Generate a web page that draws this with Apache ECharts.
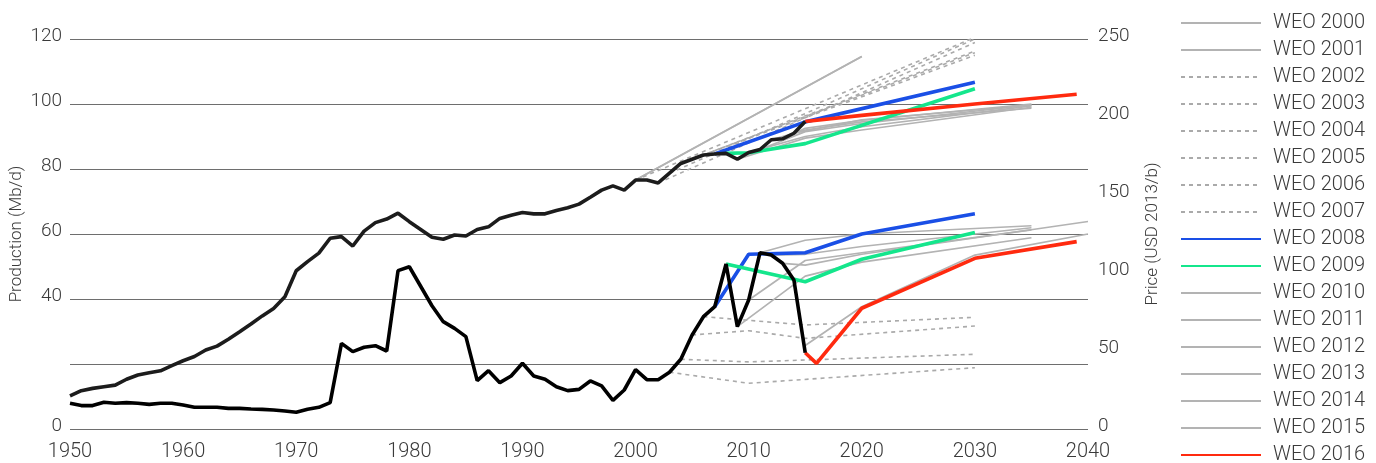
<!DOCTYPE html>
<html>
<head>
<meta charset="utf-8">
<script src="https://cdn.jsdelivr.net/npm/echarts@6/dist/echarts.min.js"></script>
<style>
html,body{margin:0;padding:0;background:#fff;}
#chart{width:1376px;height:463px;}
</style>
</head>
<body>
<div id="chart"></div>
<script>
// ---- Data ----
const histYears = [1950,1951,1952,1953,1954,1955,1956,1957,1958,1959,1960,1961,1962,1963,1964,1965,1966,1967,1968,1969,
  1970,1971,1972,1973,1974,1975,1976,1977,1978,1979,1980,1981,1982,1983,1984,1985,1986,1987,1988,1989,
  1990,1991,1992,1993,1994,1995,1996,1997,1998,1999,2000,2001,2002,2003,2004,2005,2006,2007,2008,2009,
  2010,2011,2012,2013,2014,2015];
const histProduction = [10.2,11.8,12.5,13.0,13.5,15.3,16.6,17.3,17.9,19.5,21.0,22.3,24.3,25.5,27.6,29.9,32.3,34.8,37.1,40.7,
  48.7,51.5,54.1,58.7,59.2,56.3,60.9,63.5,64.6,66.4,63.8,61.4,59.0,58.4,59.7,59.4,61.4,62.2,64.8,65.8,
  66.6,66.2,66.2,67.2,68.1,69.2,71.3,73.5,74.8,73.5,76.6,76.6,75.7,78.7,81.7,83.0,84.3,84.6,84.8,83.0,
  85.1,86.0,89.0,89.3,91.0,94.6];
const histPrice = [16.5,15.0,15.0,17.1,16.5,16.9,16.5,15.8,16.5,16.5,15.4,13.9,13.9,13.9,13.2,13.2,12.8,12.6,12.2,11.5,
  10.7,12.6,13.9,16.9,54.9,49.6,52.4,53.4,50.0,101.5,104.0,91.5,79.0,68.8,64.5,59.2,31.0,37.4,29.7,34.0,
  42.1,34.0,31.9,27.1,24.6,25.4,30.8,27.6,18.4,25.0,38.0,31.6,31.6,36.4,44.7,60.3,72.0,78.4,105.8,65.6,
  82.7,113.0,111.5,106.2,95.5,48.9];

// WEO production projections (Mb/d) [year, value]
const weo2000Prod = [[2000,76.6],[2020,114.6]];
const weo2001Prod = [[2000,76.6],[2020,114.6]];
const weo2002Prod = [[2000,76.6],[2030,120.5]];
const weo2003Prod = [[2002,75.7],[2030,118.9]];
const weo2004Prod = [[2003,78.7],[2030,120.0]];
const weo2005Prod = [[2004,81.7],[2030,115.8]];
const weo2006Prod = [[2005,83.0],[2030,116.3]];
const weo2007Prod = [[2006,84.3],[2030,115.0]];
const weo2008Prod = [[2007,84.6],[2015,94.5],[2030,106.7]];
const weo2009Prod = [[2008,84.8],[2010,85.0],[2015,87.8],[2030,104.7]];
const weo2010Prod = [[2009,83.0],[2015,89.5],[2020,92.0],[2035,99.0]];
const weo2011Prod = [[2010,85.1],[2015,90.0],[2020,93.0],[2035,99.4]];
const weo2012Prod = [[2011,86.0],[2015,91.5],[2020,94.0],[2035,99.7]];
const weo2013Prod = [[2012,89.0],[2015,92.0],[2020,94.5],[2035,98.7]];
const weo2014Prod = [[2013,89.3],[2015,92.5],[2020,95.0],[2035,100.0]];
const weo2015Prod = [[2014,91.0],[2020,95.1],[2035,99.7]];
const weo2016Prod = [[2015,94.6],[2020,96.5],[2030,100.0],[2039,103.0]];

// WEO price projections (USD 2013/b) [year, value]
const weo2004Price = [[2003,36.4],[2010,29.3],[2030,39.3]];
const weo2005Price = [[2004,44.7],[2010,43.0],[2030,47.9]];
const weo2006Price = [[2005,60.3],[2010,63.0],[2015,58.1],[2030,66.0]];
const weo2007Price = [[2006,72.0],[2015,66.7],[2030,71.6]];
const weo2008Price = [[2007,78.4],[2010,112.0],[2015,113.0],[2020,125.0],[2030,138.0]];
const weo2009Price = [[2008,105.8],[2015,94.4],[2020,108.8],[2030,126.0]];
const weo2010Price = [[2009,65.6],[2015,98.0],[2020,107.0],[2035,122.6]];
const weo2011Price = [[2010,82.7],[2015,108.0],[2020,113.0],[2035,127.6]];
const weo2012Price = [[2011,113.0],[2015,121.0],[2020,125.0],[2035,130.3]];
const weo2013Price = [[2012,111.5],[2015,112.0],[2020,117.0],[2035,129.0]];
const weo2014Price = [[2013,106.2],[2015,105.0],[2020,112.0],[2040,133.0]];
const weo2015Price = [[2015,53.5],[2020,78.4],[2030,111.5],[2040,125.0]];
const weo2016Price = [[2015,48.9],[2016,42.1],[2020,77.4],[2030,109.4],[2039,120.1]];

const xTicks = [1950,1960,1970,1980,1990,2000,2010,2020,2030,2040];
const legendNames = ['WEO 2000','WEO 2001','WEO 2002','WEO 2003','WEO 2004','WEO 2005','WEO 2006','WEO 2007',
  'WEO 2008','WEO 2009','WEO 2010','WEO 2011','WEO 2012','WEO 2013','WEO 2014','WEO 2015','WEO 2016'];

// ---- Styles ----
const FONT = 'Roboto';
const TXT = '#3a3a3a';
const GRAY = '#b3b3b3';
const styleSolid = {color: GRAY, width: 1.7, type: 'solid'};
const styleDot = {color: '#aaaaaa', width: 1.6, type: [4, 4]};
const styleBlue = {color: '#1a4fe6', width: 3.6};
const styleGreen = {color: '#14e68c', width: 3.6};
const styleRed = {color: '#ff2a0f', width: 3.6};

const editions = [
  ['WEO 2000', weo2000Prod, null, styleSolid, 1],
  ['WEO 2001', weo2001Prod, null, styleSolid, 1],
  ['WEO 2002', weo2002Prod, null, styleDot, 1],
  ['WEO 2003', weo2003Prod, null, styleDot, 1],
  ['WEO 2004', weo2004Prod, weo2004Price, styleDot, 1],
  ['WEO 2005', weo2005Prod, weo2005Price, styleDot, 1],
  ['WEO 2006', weo2006Prod, weo2006Price, styleDot, 1],
  ['WEO 2007', weo2007Prod, weo2007Price, styleDot, 1],
  ['WEO 2008', weo2008Prod, weo2008Price, styleBlue, 3],
  ['WEO 2009', weo2009Prod, weo2009Price, styleGreen, 3],
  ['WEO 2010', weo2010Prod, weo2010Price, styleSolid, 1],
  ['WEO 2011', weo2011Prod, weo2011Price, styleSolid, 1],
  ['WEO 2012', weo2012Prod, weo2012Price, styleSolid, 1],
  ['WEO 2013', weo2013Prod, weo2013Price, styleSolid, 1],
  ['WEO 2014', weo2014Prod, weo2014Price, styleSolid, 1],
  ['WEO 2015', weo2015Prod, weo2015Price, styleSolid, 1],
  ['WEO 2016', weo2016Prod, weo2016Price, styleRed, 3]
];

const series = [];
editions.forEach(function (e) {
  const common = {
    type: 'line', name: e[0], symbol: 'none', showSymbol: false, silent: true,
    lineStyle: Object.assign({}, e[3]), itemStyle: {color: e[3].color},
    z: e[4], animation: false
  };
  series.push(Object.assign({}, common, {yAxisIndex: 0, data: e[1]}));
  if (e[2]) series.push(Object.assign({}, common, {yAxisIndex: 1, data: e[2]}));
});
series.push({
  type: 'line', name: 'Production', symbol: 'none', yAxisIndex: 0, z: 5, animation: false,
  lineStyle: {color: '#1c1c1c', width: 3.6}, itemStyle: {color: '#1c1c1c'},
  data: histYears.map(function (y, i) { return [y, histProduction[i]]; })
});
series.push({
  type: 'line', name: 'Price', symbol: 'none', yAxisIndex: 1, z: 5, animation: false,
  lineStyle: {color: '#000000', width: 3.6}, itemStyle: {color: '#000'},
  data: histYears.map(function (y, i) { return [y, histPrice[i]]; })
});

const chart = echarts.init(document.getElementById('chart'), null, {renderer: 'canvas'});
chart.setOption({
  backgroundColor: '#ffffff',
  animation: false,
  textStyle: {fontFamily: FONT},
  grid: {left: 70, right: 288, top: 39, bottom: 34, containLabel: false},
  legend: {
    data: legendNames,
    orient: 'vertical',
    left: 1175,
    top: 8,
    height: 480,
    itemWidth: 80,
    itemHeight: 14,
    itemGap: 7,
    itemStyle: {opacity: 0},
    textStyle: {fontFamily: FONT, fontSize: 20, fontWeight: 300, color: TXT, lineHeight: 20, padding: [0, 0, 0, 7]},
    selectedMode: false
  },
  xAxis: {
    type: 'value', min: 1950, max: 2040, interval: 10,
    axisLine: {show: false}, axisTick: {show: false}, splitLine: {show: false},
    axisLabel: {fontFamily: FONT, fontSize: 20, fontWeight: 300, color: TXT, margin: 13,
      formatter: function (v) { return xTicks.indexOf(v) >= 0 ? String(v) : ''; }}
  },
  yAxis: [
    {
      type: 'value', min: 0, max: 120, interval: 20, position: 'left',
      name: 'Production (Mb/d)', nameLocation: 'middle', nameGap: 45, nameRotate: 90,
      nameMoveOverlap: false,
      nameTextStyle: {fontFamily: FONT, fontSize: 17, fontWeight: 300, color: TXT},
      axisLine: {show: false}, axisTick: {show: false},
      splitLine: {show: true, lineStyle: {color: '#6e6e6e', width: 1.2}},
      axisLabel: {fontFamily: FONT, fontSize: 19, fontWeight: 300, color: TXT, margin: 8,
        verticalAlign: 'bottom', lineHeight: 6,
        formatter: function (v) { return v === 20 ? '' : String(v); }}
    },
    {
      type: 'value', min: 0, max: 250, interval: 50, position: 'right',
      name: 'Price (USD 2013/b)', nameLocation: 'middle', nameGap: 56, nameRotate: 90,
      nameTextStyle: {fontFamily: FONT, fontSize: 17, fontWeight: 300, color: TXT},
      axisLine: {show: false}, axisTick: {show: false}, splitLine: {show: false},
      axisLabel: {fontFamily: FONT, fontSize: 19, fontWeight: 300, color: TXT, margin: 10,
        verticalAlign: 'bottom', lineHeight: 6}
    }
  ],
  series: series
});
</script>
</body>
</html>
